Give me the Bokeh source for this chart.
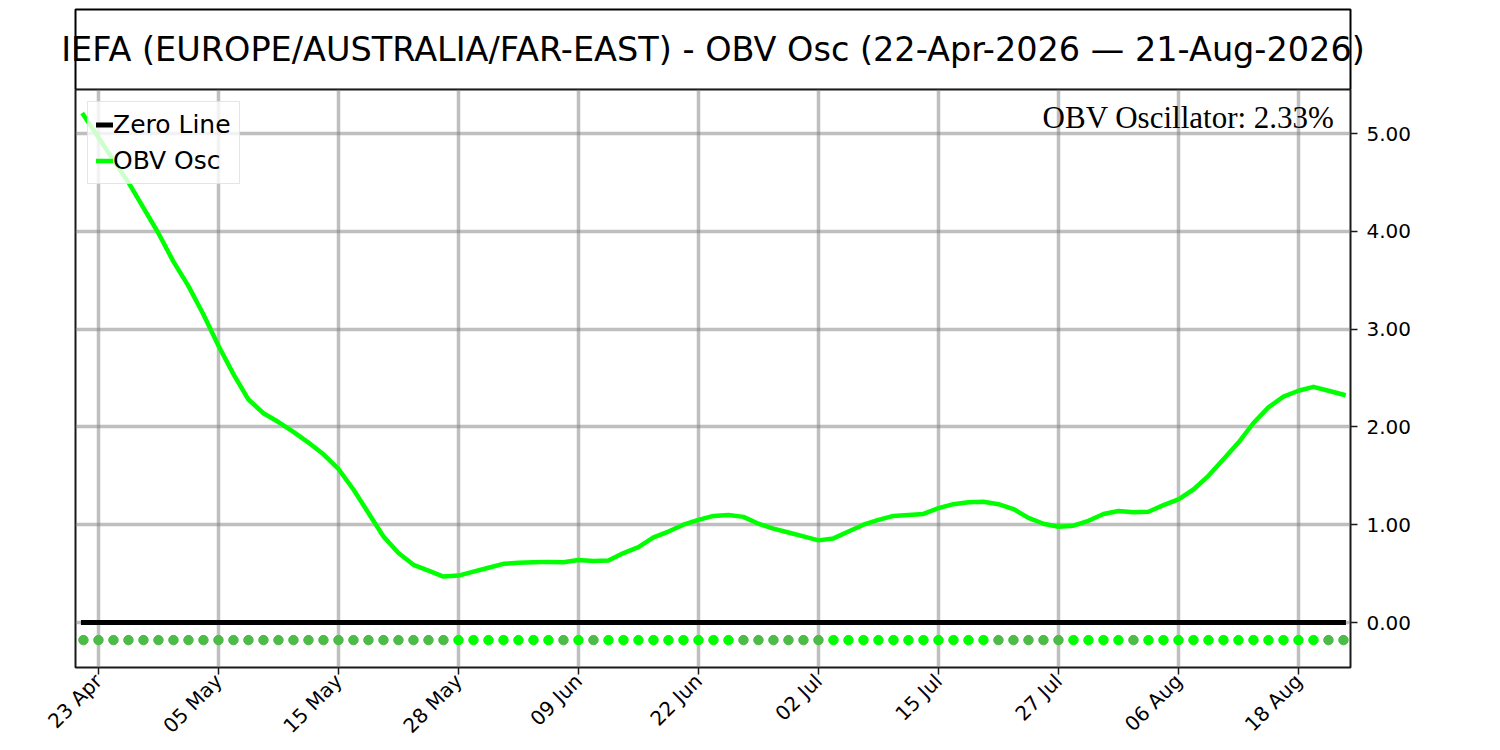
import math
from bokeh.plotting import figure
from bokeh.models import Range1d, FixedTicker, Label, NumeralTickFormatter, ColumnDataSource
from bokeh.embed import file_html
from bokeh.resources import INLINE

# ---------------- data ----------------
title_text = "IEFA (EUROPE/AUSTRALIA/FAR-EAST) - OBV Osc (22-Apr-2026 \u2014 21-Aug-2026)"

dates = [
    "22 Apr", "23 Apr", "24 Apr", "27 Apr", "28 Apr", "29 Apr", "30 Apr",
    "01 May", "04 May", "05 May", "06 May", "07 May", "08 May", "11 May", "12 May",
    "13 May", "14 May", "15 May", "18 May", "19 May", "20 May", "21 May", "22 May",
    "26 May", "27 May", "28 May", "29 May",
    "01 Jun", "02 Jun", "03 Jun", "04 Jun", "05 Jun", "08 Jun", "09 Jun", "10 Jun",
    "11 Jun", "12 Jun", "15 Jun", "16 Jun", "17 Jun", "18 Jun", "22 Jun", "23 Jun",
    "24 Jun", "25 Jun", "26 Jun", "29 Jun", "30 Jun",
    "01 Jul", "02 Jul", "06 Jul", "07 Jul", "08 Jul", "09 Jul", "10 Jul", "13 Jul",
    "14 Jul", "15 Jul", "16 Jul", "17 Jul", "20 Jul", "21 Jul", "22 Jul", "23 Jul",
    "24 Jul", "27 Jul", "28 Jul", "29 Jul", "30 Jul", "31 Jul",
    "03 Aug", "04 Aug", "05 Aug", "06 Aug", "07 Aug", "10 Aug", "11 Aug", "12 Aug",
    "13 Aug", "14 Aug", "17 Aug", "18 Aug", "19 Aug", "20 Aug", "21 Aug",
]

obv_osc = [
    5.19, 4.96, 4.73, 4.50, 4.24, 3.98, 3.69, 3.44, 3.15, 2.83,
    2.54, 2.28, 2.14, 2.05, 1.95, 1.84, 1.72, 1.57, 1.36, 1.12,
    0.88, 0.71, 0.59, 0.53, 0.47, 0.48, 0.52, 0.56, 0.60, 0.61,
    0.615, 0.62, 0.617, 0.64, 0.63, 0.635, 0.71, 0.77, 0.87, 0.93,
    1.00, 1.05, 1.09, 1.10, 1.08, 1.01, 0.96, 0.92, 0.88, 0.84,
    0.86, 0.93, 1.00, 1.05, 1.09, 1.10, 1.11, 1.17, 1.21, 1.23,
    1.235, 1.21, 1.16, 1.07, 1.01, 0.98, 0.99, 1.04, 1.11, 1.14,
    1.128, 1.132, 1.20, 1.26, 1.36, 1.50, 1.67, 1.84, 2.04, 2.20,
    2.31, 2.37, 2.41, 2.37, 2.33,
]

tick_labels = ["23 Apr", "05 May", "15 May", "28 May", "09 Jun", "22 Jun",
               "02 Jul", "15 Jul", "27 Jul", "06 Aug", "18 Aug"]
y_ticks = [0, 1, 2, 3, 4, 5]

last_value_text = "OBV Oscillator: 2.33%"

# ---------------- styling ----------------
LIME = "#00FF00"
DARK = "#4CBB47"
SIGNAL_Y = -0.18
W = 1490
ML, MR = 75, 140
FW, FH = 1275, 578
TH = 89  # title panel height

x_idx = list(range(len(obv_osc)))
zero = [0.0] * len(obv_osc)
dot_colors = [DARK] + [LIME if obv_osc[i] > obv_osc[i - 1] else DARK for i in range(1, len(obv_osc))]
dot_y = [SIGNAL_Y] * len(obv_osc)

# ---------------- title panel (pixel coordinates) ----------------
tf = figure(width=W, height=TH, x_range=Range1d(0, W), y_range=Range1d(0, TH),
            x_axis_type=None, y_axis_type=None, toolbar_location=None,
            output_backend="svg", min_border_left=0, min_border_right=0,
            min_border_top=0, min_border_bottom=0)
tf.grid.visible = False
tf.outline_line_color = None
tf.quad(left=[ML], right=[ML + FW], bottom=[0], top=[TH - 9],
        fill_color=None, line_color="black", line_width=2)
tf.add_layout(Label(x=ML + FW / 2, y=TH - 49, text=title_text, text_align="center",
                    text_baseline="middle", text_font="DejaVu Sans",
                    text_font_size="33.5px", text_color="black"))

# ---------------- main panel ----------------
p = figure(frame_width=FW, frame_height=FH,
           x_range=Range1d(-0.53, 84.47), y_range=Range1d(-0.46, 5.45),
           y_axis_location="right", toolbar_location=None, output_backend="svg",
           min_border_left=ML, min_border_right=MR, min_border_top=0, min_border_bottom=78)
p.outline_line_color = "#1a1a1a"
p.outline_line_width = 2

src = ColumnDataSource(dict(x=x_idx, y=obv_osc, z=zero, dy=dot_y, c=dot_colors))

p.line("x", "z", source=src, line_color="black", line_width=5, line_cap="square",
       legend_label="Zero Line")
p.scatter("x", "dy", source=src, size=9.5, fill_color="c", line_color="c")
p.line("x", "y", source=src, line_color=LIME, line_width=4.5, line_cap="square",
       line_join="round", legend_label="OBV Osc")

tick_pos = [dates.index(t) for t in tick_labels]
p.xaxis.ticker = FixedTicker(ticks=tick_pos)
p.xaxis.major_label_overrides = {i: dates[i] for i in tick_pos}
p.xaxis.major_label_orientation = math.pi / 4
p.yaxis.ticker = FixedTicker(ticks=y_ticks)
p.yaxis.formatter = NumeralTickFormatter(format="0.00")

for ax in (p.xaxis, p.yaxis):
    ax.axis_line_color = None
    ax.major_tick_out = 7
    ax.major_tick_in = 0
    ax.major_tick_line_width = 1.5
    ax.major_tick_line_color = "#1a1a1a"
    ax.minor_tick_line_color = None
    ax.major_label_text_font = "DejaVu Sans"
    ax.major_label_text_color = "black"
    ax.major_label_text_font_size = "20px"
p.yaxis.major_label_standoff = 9
p.xaxis.major_label_standoff = 3

for g in (p.xgrid, p.ygrid):
    g.grid_line_color = "#808080"
    g.grid_line_alpha = 0.5
    g.grid_line_width = 3.5
p.xgrid.ticker = p.xaxis.ticker
p.ygrid.ticker = p.yaxis.ticker

p.add_layout(Label(x=83.4, y=5.16, text=last_value_text, text_align="right",
                   text_baseline="alphabetic", text_font="Liberation Serif",
                   text_font_size="31px", text_color="black"))

lg = p.legend[0]
lg.location = "top_left"
lg.margin = 12
lg.padding = 8
lg.spacing = 7
lg.label_text_font = "DejaVu Sans"
lg.label_text_font_size = "25px"
lg.label_text_color = "black"
lg.glyph_width = 17
lg.glyph_height = 29
lg.label_height = 29
lg.label_standoff = 0
lg.border_line_color = "#cccccc"
lg.border_line_width = 1.5
lg.background_fill_alpha = 0.8

open("out.html", "w").write(file_html([tf, p], INLINE))
